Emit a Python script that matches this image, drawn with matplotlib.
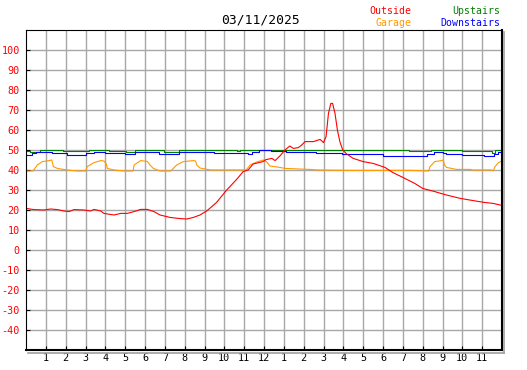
import matplotlib

matplotlib.use("Agg")
import matplotlib.pyplot as plt
from matplotlib.lines import Line2D

TITLE = "03/11/2025"

# hour-of-day ticks
HOUR_TICKS = list(range(1, 24))
HOUR_LABELS = [str(h) for h in range(1, 13)] + [str(h) for h in range(1, 12)]
TEMP_TICKS = list(range(-40, 101, 10))

# Outside (red)
out_t = [0, 0.4, 0.9, 1.24, 1.58, 1.92, 2.17, 2.42, 2.92, 3.26, 3.43, 3.77, 3.93,
         4.44, 4.77, 5.1, 5.45, 5.78, 6.12, 6.45, 6.76, 7.26, 7.77, 8.1, 8.44, 8.77,
         9.11, 9.6, 10.12, 10.62, 10.95, 11.2, 11.45, 11.95, 12.1, 12.4, 12.56, 12.8,
         13.06, 13.3, 13.48, 13.73, 13.9, 14.07, 14.5, 14.83, 15.0, 15.13, 15.25,
         15.37, 15.46, 15.58, 15.7, 15.83, 15.97, 16.17, 16.5, 17.0, 17.5, 18.1,
         18.5, 19.0, 19.6, 20.0, 20.5, 21.2, 21.9, 22.55, 23.1, 23.55, 24.0]
out_v = [20.8, 20.2, 20.0, 20.5, 20.2, 19.5, 19.2, 20.2, 20.0, 19.5, 20.3, 19.5, 18.3,
         17.5, 18.3, 18.3, 19.2, 20.3, 20.3, 19.2, 17.5, 16.3, 15.7, 15.5, 16.3, 17.5,
         19.5, 23.7, 30.0, 35.3, 39.2, 40.0, 43.0, 44.2, 45.2, 45.8, 44.7, 47.0,
         50.0, 52.0, 50.8, 51.2, 52.5, 54.2, 54.2, 55.3, 53.7, 56.7, 68.3,
         73.3, 73.3, 68.3, 60.0, 54.0, 50.0, 48.0, 45.8, 44.2, 43.3, 41.3,
         38.7, 36.3, 33.3, 30.8, 29.5, 27.5, 25.8, 24.7, 23.8, 23.3, 22.3]

# Garage (orange)
gar_t = [0, 0.35, 0.57, 0.82, 1.16, 1.3, 1.38, 1.58, 2.08, 2.6, 3.0, 3.09, 3.43, 3.77,
         3.93, 4.05, 4.1, 4.44, 4.95, 5.4, 5.45, 5.78, 6.12, 6.25, 6.42, 6.76, 7.3,
         7.6, 7.93, 8.44, 8.55, 8.61, 8.77, 9.3, 11.1, 11.3, 11.63, 11.97, 12.14,
         12.3, 12.8, 13.06, 14.3, 14.7, 16.3, 19.4, 20.3, 20.37, 20.45, 20.6, 20.96,
         21.04, 21.1, 21.2, 21.45, 21.7, 22.4, 22.5, 23.5, 23.56, 23.65, 23.82, 24.0]
gar_v = [39.5, 39.5, 42.5, 44.2, 44.7, 45.0, 41.7, 40.8, 40.0, 39.5, 39.5, 41.7, 43.7, 44.7,
         44.5, 43.0, 40.8, 40.0, 39.5, 39.5, 42.5, 44.7, 44.3, 42.5, 40.8, 39.5, 39.5,
         42.5, 44.2, 44.7, 44.5, 42.5, 41.0, 40.0, 40.0, 42.5, 44.0, 45.0, 44.0,
         42.0, 41.3, 40.8, 40.3, 40.0, 39.8, 39.8, 39.5, 41.7, 42.5, 44.2, 44.7,
         45.0, 42.5, 41.3, 40.8, 40.3, 40.3, 40.0, 40.0, 39.5, 41.7, 43.7, 44.5]

# Upstairs (green), stepped
up_t = [0, 0.2, 0.7, 1.85, 3.2, 4.2, 5.05, 5.5, 6.95, 7.7, 10.65, 10.8, 12.2, 15.9,
        19.3, 20.4, 22.0, 23.5, 23.65, 24.0]
up_v = [49.7, 49.2, 50.0, 49.3, 49.8, 49.5, 49.0, 49.8, 49.0, 49.8, 49.3, 49.8, 50.2, 49.8,
        49.3, 49.8, 49.3, 48.7, 49.8, 49.8]

# Downstairs (blue), stepped
down_t = [0, 0.28, 0.52, 1.3, 2.05, 3.05, 3.45, 3.97, 4.97, 5.48, 6.7, 7.7, 8.52, 9.5,
          11.2, 11.4, 11.75, 12.35, 13.1, 14.62, 15.95, 18.0, 20.2, 20.55, 21.0, 21.2,
          22.0, 23.1, 23.6, 23.8, 24.0]
down_v = [47.6, 48.3, 49.2, 48.3, 47.6, 48.3, 49.2, 48.3, 47.8, 49.2, 48.0, 49.2, 48.8, 48.3,
          47.8, 48.8, 50.0, 49.5, 49.0, 48.5, 48.0, 47.0, 48.0, 49.2, 48.7, 48.0,
          47.5, 47.0, 48.0, 48.8, 48.8]

W, H = 527, 370
fig = plt.figure(figsize=(W / 100, H / 100), dpi=100)
ax = fig.add_axes([26 / W, 20 / H, 476 / W, 320 / H])
mono = "DejaVu Sans Mono"

ax.set_xlim(0, 24)
ax.set_ylim(-50, 110)
ax.set_xticks(HOUR_TICKS)
ax.set_xticklabels(HOUR_LABELS, fontfamily=mono, fontsize=7.3)
ax.set_yticks(TEMP_TICKS)
ax.set_yticklabels([str(v) for v in TEMP_TICKS], fontfamily=mono, fontsize=7.3, color="red")
ax.tick_params(axis="both", direction="in", length=3, width=0.8, color="black")
ax.tick_params(axis="y", pad=4.5)
ax.tick_params(axis="x", pad=2.5)
ax.grid(True, color="#a8a8a8", lw=1.0)
ax.set_axisbelow(True)

for s in ("left", "top"):
    ax.spines[s].set_linewidth(0.8)
for s in ("right", "bottom"):
    ax.spines[s].set_linewidth(1.5)

kw = dict(lw=0.8)
ax.plot(up_t, up_v, color="#008000", drawstyle="steps-post", **kw)
ax.plot(down_t, down_v, color="#0000ff", drawstyle="steps-post", **kw)
ax.plot(gar_t, gar_v, color="#ff9900", **kw)
ax.plot(out_t, out_v, color="#ff0000", **kw)

# drop shadow along the right and bottom frame
fig.add_artist(Line2D([504 / W, 504 / W], [1 - 32 / H, 1 - 352.5 / H], color="#a0a0a0", lw=1.2))
fig.add_artist(Line2D([28 / W, 504 / W], [1 - 352.5 / H, 1 - 352.5 / H], color="#a0a0a0", lw=1.2))

fig.text(261 / W, 1 - 20 / H, TITLE, ha="center", va="center", fontfamily=mono, fontsize=9.4)
fig.text(411 / W, 1 - 11 / H, "Outside", ha="right", va="center", fontfamily=mono, fontsize=7.1, color="red")
fig.text(411 / W, 1 - 23 / H, "Garage", ha="right", va="center", fontfamily=mono, fontsize=7.1, color="#ff9900")
fig.text(500 / W, 1 - 11 / H, "Upstairs", ha="right", va="center", fontfamily=mono, fontsize=7.1, color="#008000")
fig.text(500 / W, 1 - 23 / H, "Downstairs", ha="right", va="center", fontfamily=mono, fontsize=7.1, color="#0000ff")

fig.savefig("out.png", dpi=100)
